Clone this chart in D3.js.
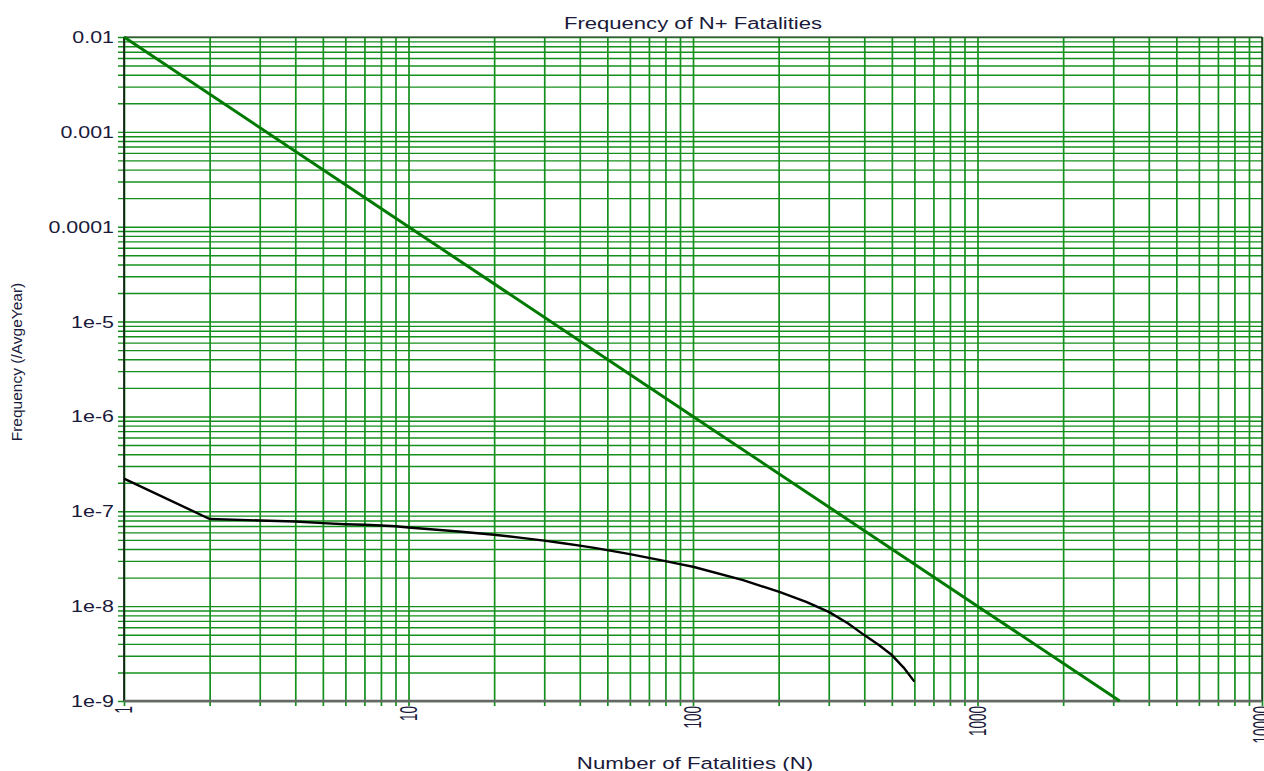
<!DOCTYPE html>
<html>
<head>
<meta charset="utf-8">
<script src="https://cdn.jsdelivr.net/npm/d3@7"></script>
<style>
  html, body { margin: 0; padding: 0; background: #fff; }
  svg { display: block; font-family: "Liberation Sans", Arial, sans-serif; }
</style>
</head>
<body>
<svg id="chart" width="1264" height="771"></svg>
<script>
// F-N curve: cumulative frequency of N or more fatalities
const fnN     = [1, 2, 3, 4, 5, 6, 7, 8, 9, 10, 15, 20, 25, 30, 35, 40, 45, 50, 60, 70, 80, 90, 100,
                 150, 200, 250, 300, 350, 400, 450, 500, 550, 600];
const fnFreq  = [2.21e-7, 8.3e-8, 8.0e-8, 7.8e-8, 7.5e-8, 7.3e-8, 7.2e-8, 7.07e-8, 6.95e-8, 6.75e-8,
                 6.12e-8, 5.65e-8, 5.25e-8, 4.9e-8, 4.6e-8, 4.35e-8, 4.11e-8, 3.9e-8, 3.53e-8,
                 3.23e-8, 2.98e-8, 2.77e-8, 2.6e-8, 1.88e-8, 1.42e-8, 1.11e-8, 8.7e-9, 6.6e-9,
                 4.95e-9, 3.9e-9, 3.05e-9, 2.25e-9, 1.6e-9];

// Criterion line
const critN    = [1, 10, 100, 1000, 3162];
const critFreq = [1e-2, 1e-4, 1e-6, 1e-8, 1e-9];

// Tick labels
const xTickValues = [1, 10, 100, 1000, 10000];
const xTickLabels = ["1", "10", "100", "1000", "10000"];
const yTickValues = [1e-9, 1e-8, 1e-7, 1e-6, 1e-5, 1e-4, 1e-3, 1e-2];
const yTickLabels = ["1e-9", "1e-8", "1e-7", "1e-6", "1e-5", "0.0001", "0.001", "0.01"];

const titleText  = "Frequency of N+ Fatalities";
const xTitleText = "Number of Fatalities (N)";
const yTitleText = "Frequency (/AvgeYear)";

const svg = d3.select("#chart");
const plotLeft = 124, plotRight = 1262, plotTop = 37, plotBottom = 701;
const stretch = 1.38;   // wide lettering

const x = d3.scaleLog().domain([1, 10000]).range([plotLeft, plotRight]);
const y = d3.scaleLog().domain([1e-9, 1e-2]).range([plotBottom, plotTop]);

// every 1..9 multiple within each decade
function logGridValues(lo, hi) {
  const out = [];
  for (let d = lo; d < hi * 0.999; d *= 10) for (let k = 1; k <= 9; k++) out.push(k * d);
  out.push(hi);
  return out;
}
const xGrid = logGridValues(1, 10000);
const yGrid = logGridValues(1e-9, 1e-2);

const gridColor = "#14901c";

// vertical grid lines, running a little past the bottom axis
svg.append("g")
  .attr("transform", `translate(0,${plotBottom + 5})`)
  .call(d3.axisBottom(x).tickValues(xGrid).tickSize(-(plotBottom + 5 - plotTop)).tickFormat(""))
  .call(g => g.select(".domain").remove())
  .call(g => g.selectAll("line").attr("stroke", gridColor).attr("stroke-width", 1.7));

// horizontal grid lines, running a little past the left axis
svg.append("g")
  .attr("transform", `translate(${plotLeft - 6},0)`)
  .call(d3.axisLeft(y).tickValues(yGrid).tickSize(-(plotRight - plotLeft + 6)).tickFormat(""))
  .call(g => g.select(".domain").remove())
  .call(g => g.selectAll("line").attr("stroke", gridColor).attr("stroke-width", 1.4));

// frame
svg.append("line").attr("x1", plotLeft).attr("x2", plotRight).attr("y1", plotTop).attr("y2", plotTop)
  .attr("stroke", "#3a3a3a").attr("stroke-width", 1.2);
svg.append("line").attr("x1", plotRight).attr("x2", plotRight).attr("y1", plotTop).attr("y2", plotBottom)
  .attr("stroke", "#222").attr("stroke-width", 1.3);
svg.append("line").attr("x1", plotLeft).attr("x2", plotLeft).attr("y1", plotTop).attr("y2", plotBottom)
  .attr("stroke", "#111").attr("stroke-width", 1.6);
svg.append("line").attr("x1", plotLeft).attr("x2", plotRight).attr("y1", plotBottom).attr("y2", plotBottom)
  .attr("stroke", "#666").attr("stroke-width", 2.4);

// x tick labels, rotated
const xLab = svg.append("g")
  .attr("transform", `translate(0,${plotBottom + 5})`)
  .call(d3.axisBottom(x).tickValues(xTickValues).tickSize(0)
    .tickFormat((d, i) => xTickLabels[i]));
xLab.select(".domain").remove();
xLab.selectAll("text")
  .attr("fill", "#1a1a3a")
  .attr("font-size", 13.5)
  .attr("font-family", "'Liberation Sans', Arial, sans-serif")
  .attr("text-anchor", "end")
  .attr("dy", null)
  .attr("y", null)
  .attr("dominant-baseline", "central")
  .attr("transform", "scale(1.75,1) rotate(-90)");

// y tick labels
const yLab = svg.append("g")
  .attr("transform", `translate(${plotLeft - 10},0)`)
  .call(d3.axisLeft(y).tickValues(yTickValues).tickSize(0)
    .tickFormat((d, i) => yTickLabels[i]));
yLab.select(".domain").remove();
yLab.selectAll("text")
  .attr("fill", "#1a1a3a")
  .attr("font-size", 16)
  .attr("font-family", "'Liberation Sans', Arial, sans-serif")
  .attr("x", 0)
  .attr("dy", null)
  .attr("y", 5.5)
  .attr("text-anchor", "end")
  .attr("transform", `scale(${stretch - 0.04},1)`);

// curves
const line = d3.line().x(d => x(d[0])).y(d => y(d[1]));

svg.append("path")
  .datum(critN.map((n, i) => [n, critFreq[i]]))
  .attr("d", line)
  .attr("fill", "none")
  .attr("stroke", "#007a00")
  .attr("stroke-width", 3);

svg.append("path")
  .datum(fnN.map((n, i) => [n, fnFreq[i]]))
  .attr("d", line)
  .attr("fill", "none")
  .attr("stroke", "#000")
  .attr("stroke-width", 2.4)
  .attr("stroke-linejoin", "round");

// titles
svg.append("text")
  .attr("transform", `translate(693,28.5) scale(${stretch},1)`)
  .attr("text-anchor", "middle")
  .attr("font-size", 16)
  .attr("fill", "#1a1a3a")
  .text(titleText);

svg.append("text")
  .attr("transform", `translate(695,769) scale(${stretch - 0.03},1)`)
  .attr("text-anchor", "middle")
  .attr("font-size", 16.5)
  .attr("fill", "#1a1a3a")
  .text(xTitleText);

svg.append("text")
  .attr("transform", "translate(22,362) rotate(-90)")
  .attr("text-anchor", "middle")
  .attr("font-size", 15.5)
  .attr("fill", "#1a1a3a")
  .text(yTitleText);
</script>
</body>
</html>
